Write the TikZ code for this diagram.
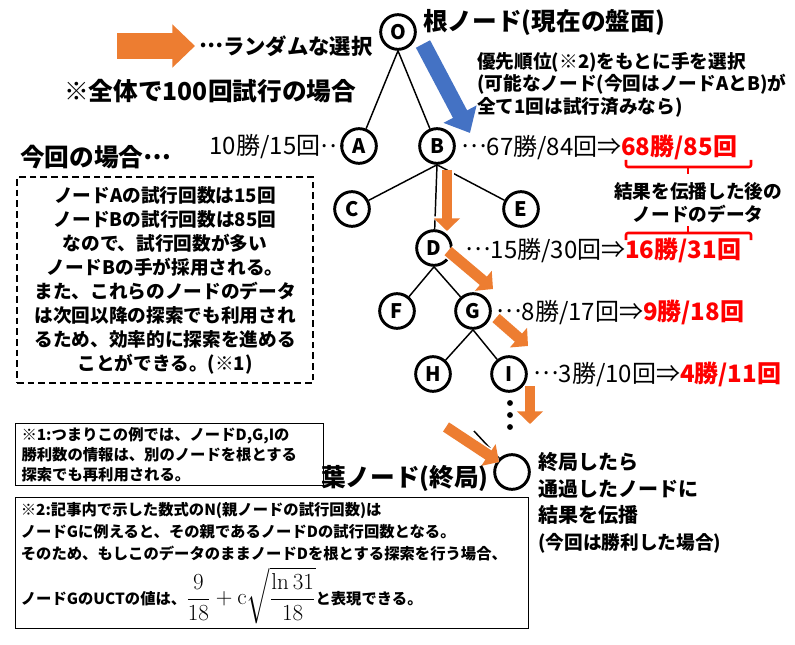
\documentclass[tikz,border=0pt]{standalone}
\usepackage{amsmath}
\usepackage[no-math]{fontspec}
\setmainfont{Noto Sans CJK JP}
\usepackage{xcolor}
\usetikzlibrary{arrows.meta,positioning}
\definecolor{selorange}{HTML}{ED7D31}
\definecolor{prioblue}{HTML}{4472C4}
\newcommand{\cdt}{\raisebox{0.3em}{…}}

\begin{document}
\begin{tikzpicture}[x=0.75pt, y=-0.75pt,
    tree_node/.style={circle, draw, line width=2.2pt, minimum size=26pt, inner sep=0pt, font=\bfseries\fontsize{15}{15}\selectfont},
    branch/.style={line width=1.1pt},
    random_arrow/.style={draw=selorange, line width=8.2pt, -{Triangle[width=19pt,length=9.5pt]},
        preaction={draw=white, line width=10.5pt, -{Triangle[width=23pt,length=11pt]}}},
    prio_arrow/.style={draw=prioblue, line width=12pt, -{Triangle[width=27pt,length=16pt]},
        preaction={draw=white, line width=15pt, -{Triangle[width=31pt,length=18pt]}}},
    legend_arrow/.style={draw=selorange, line width=20pt, -{Triangle[width=31.5pt,length=17pt]}},
    brace_line/.style={red, line width=1.9pt, rounded corners=1.5pt},
    title_text/.style={inner sep=0pt, font=\bfseries\fontsize{18.5}{21}\selectfont},
    legend_text/.style={inner sep=0pt, font=\bfseries\fontsize{16}{19}\selectfont},
    note_text/.style={inner sep=0pt, font=\bfseries\fontsize{14}{17}\selectfont},
    count_text/.style={inner sep=0pt, font=\fontsize{18}{20}\selectfont},
    box_text/.style={inner sep=0pt, font=\bfseries\fontsize{11.5}{15}\selectfont}
]
\useasboundingbox (0,0) rectangle (795,645);

% --- legend ---
\coordinate (LegendTail) at (117,46);
\coordinate (LegendTip) at (195,46);
\draw[legend_arrow] (LegendTail) -- (LegendTip);
\node[legend_text, anchor=west] (LegendLbl) at (199,46) {\cdt ランダムな選択};
\node[title_text, anchor=west] (TotalLbl) at (64,91) {※全体で100回試行の場合};

% --- the search tree ---
\node[tree_node] (O) at (398,32) {O};
\node[tree_node] (A) at (359,146) {A};
\node[tree_node] (B) at (437,146) {B};
\node[tree_node] (C) at (352,209) {C};
\node[tree_node] (E) at (521,209) {E};
\node[tree_node] (D) at (434,248) {D};
\node[tree_node] (F) at (397,311) {F};
\node[tree_node] (G) at (473,311) {G};
\node[tree_node] (H) at (433,374) {H};
\node[tree_node] (I) at (509,374) {I};
\node[tree_node] (Leaf) at (512,472) {};
% vertical dots below I
\foreach \y in {403,415,427} {
    \fill (510,\y) circle (2.2pt);
}

\draw[branch] (O.south) -- (A);
\draw[branch] (O.south) -- (B);
\foreach \child in {C,D,E} {
    \draw[branch] (B.south) -- (\child);
}
\draw[branch] (D.south) -- (F);
\draw[branch] (D.south) -- (G);
\draw[branch] (G.south) -- (H);
\draw[branch] (G.south) -- (I);
\coordinate (LeafIn) at (474,431);
\draw[branch] (LeafIn) -- (Leaf);

% --- selection arrows ---
\coordinate (PrioTail) at (423,44);
\coordinate (PrioTip) at (470,133);
\draw[prio_arrow] (PrioTail) -- (PrioTip);
\coordinate (BDTail) at (447,170);
\coordinate (BDTip) at (447,231);
\draw[random_arrow] (BDTail) -- (BDTip);
\coordinate (DGTail) at (448,251);
\coordinate (DGTip) at (493,289);
\draw[random_arrow] (DGTail) -- (DGTip);
\coordinate (GITail) at (496,318);
\coordinate (GITip) at (528,346);
\draw[random_arrow] (GITail) -- (GITip);
\coordinate (IDTail) at (530,386);
\coordinate (IDTip) at (530,424);
\draw[random_arrow] (IDTail) -- (IDTip);
\coordinate (LeafTail) at (446,427);
\coordinate (LeafTip) at (499,462);
\draw[random_arrow] (LeafTail) -- (LeafTip);

% --- labels ---
\node[title_text, anchor=west] (RootLbl) at (423,22) {根ノード(現在の盤面)};
\node[note_text, anchor=north west, align=left] (PrioLbl) at (477,52)
    {優先順位(※2)をもとに手を選択\\(可能なノード(今回はノードAとB)が\\全て1回は試行済みなら)};
\node[count_text, anchor=east] (CountA) at (346,147) {10勝/15回\cdt};
\node[count_text, anchor=west] (CountB) at (461,147) {\cdt 67勝/84回⇒\textcolor{red}{\bfseries 68勝/85回}};
\node[count_text, anchor=west] (CountD) at (465,250) {\cdt 15勝/30回⇒\textcolor{red}{\bfseries 16勝/31回}};
\node[count_text, anchor=west] (CountG) at (496,312) {\cdt 8勝/17回⇒\textcolor{red}{\bfseries 9勝/18回}};
\node[count_text, anchor=west] (CountI) at (533,374) {\cdt 3勝/10回⇒\textcolor{red}{\bfseries 4勝/11回}};

% red brackets
\draw[brace_line] (626,160) -- (626,167) -- (751,167) -- (751,160);
\draw[brace_line] (688,167) -- (688,174);
\draw[brace_line] (626,240) -- (626,233) -- (751,233) -- (751,240);
\draw[brace_line] (688,233) -- (688,226);
\node[note_text, align=center] (PropLbl) at (698,203) {結果を伝播した後の\\ノードのデータ};

% --- this case ---
\node[title_text, anchor=west] (CaseLbl) at (20,157) {今回の場合\cdt};
\node[draw, dashed, dash pattern=on 5pt off 3pt, line width=1.8pt, minimum width=222pt, minimum height=154.5pt,
      inner sep=0pt, align=center, font=\bfseries\fontsize{14}{18}\selectfont] (CaseBox) at (165,280)
    {ノードAの試行回数は15回\\ノードBの試行回数は85回\\なので、試行回数が多い\\ノードBの手が採用される。\\また、これらのノードのデータ\\は次回以降の探索でも利用され\\るため、効率的に探索を進める\\ことができる。(※1)};

% --- leaf ---
\node[title_text, anchor=east] (LeafLbl) at (489,478) {葉ノード(終局)};
\node[anchor=north west, align=left, inner sep=0pt, font=\bfseries\fontsize{15}{20}\selectfont] (LeafNote) at (538,452)
    {終局したら\\通過したノードに\\結果を伝播\\{\fontsize{14}{20}\selectfont (今回は勝利した場合)}};

% --- footnotes ---
\node[draw, line width=0.8pt, anchor=north west, minimum width=231pt, minimum height=46.5pt,
      text width=222pt, inner xsep=4.5pt, align=left, box_text] (Note1) at (15,423)
    {※1:つまりこの例では、ノードD,G,Iの\\勝利数の情報は、別のノードを根とする\\探索でも再利用される。};
\node[draw, line width=0.8pt, anchor=north west, minimum width=385pt, minimum height=98pt,
      text width=377pt, inner xsep=4pt, align=left, box_text, font=\bfseries\fontsize{11.5}{16.5}\selectfont] (Note2) at (15,497)
    {※2:記事内で示した数式のN(親ノードの試行回数)は\\ノードGに例えると、その親であるノードDの試行回数となる。\\そのため、もしこのデータのままノードDを根とする探索を行う場合、\\[4pt]
     ノードGのUCTの値は、{\fontsize{16}{18}\selectfont$\dfrac{9}{18}+\mathrm{c}\sqrt{\dfrac{\ln 31}{18}}$}と表現できる。};

\end{tikzpicture}
\end{document}
